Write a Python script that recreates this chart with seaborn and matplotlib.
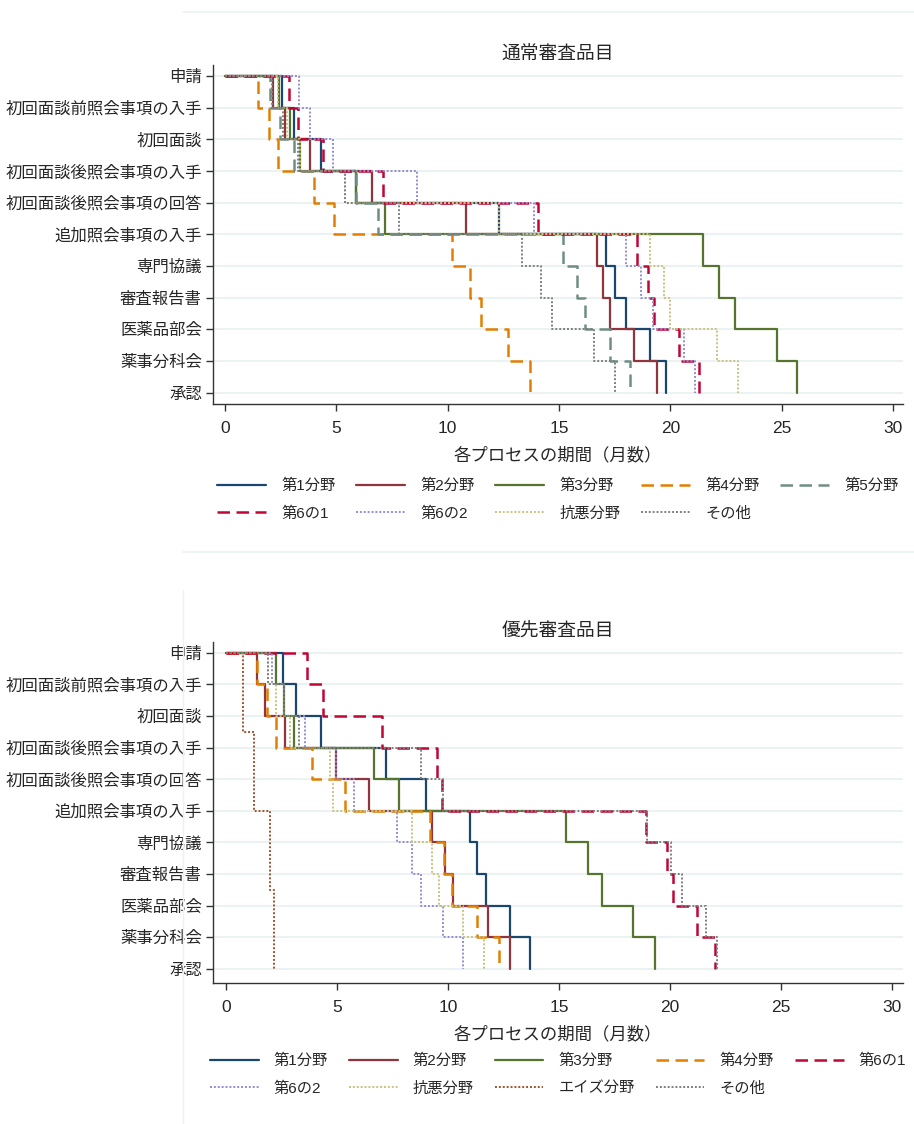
import matplotlib
matplotlib.use('Agg')
import matplotlib.pyplot as plt
from matplotlib.lines import Line2D
import seaborn as sns
import pandas as pd

sns.set_theme(style='white')
plt.rcParams['font.family'] = ['Liberation Sans', 'Noto Sans CJK JP', 'DejaVu Sans']
plt.rcParams['axes.unicode_minus'] = False

# 審査プロセスの各段階
stages = ['申請', '初回面談前照会事項の入手', '初回面談', '初回面談後照会事項の入手',
          '初回面談後照会事項の回答', '追加照会事項の入手', '専門協議', '審査報告書',
          '医薬品部会', '薬事分科会', '承認']
stage_pos = list(range(len(stages)))

# 通常審査品目（各段階までの累積月数）
normal_1 = [0, 2.57, 3.10, 4.30, 5.90, 12.29, 17.09, 17.51, 18.01, 19.08, 19.79]
normal_2 = [0, 2.17, 2.69, 3.82, 6.59, 10.82, 16.69, 16.99, 17.29, 18.38, 19.38]
normal_3 = [0, 2.44, 2.92, 3.37, 5.90, 7.18, 21.48, 22.18, 22.90, 24.77, 25.67]
normal_4 = [0, 1.50, 1.98, 2.39, 4.00, 4.89, 10.18, 11.00, 11.50, 12.69, 13.70]
normal_5 = [0, 2.02, 2.47, 3.10, 5.90, 6.89, 15.19, 15.82, 16.18, 17.29, 18.20]
normal_61 = [0, 2.89, 3.29, 4.39, 7.08, 14.07, 18.49, 18.98, 19.28, 20.40, 21.28]
normal_62 = [0, 3.31, 3.82, 4.86, 8.61, 13.87, 17.99, 18.68, 19.20, 20.61, 21.10]
normal_koaku = [0, 2.36, 2.80, 3.37, 5.39, 12.29, 19.10, 19.70, 20.00, 22.09, 23.02]
normal_other = [0, 2.10, 2.59, 3.30, 5.39, 7.80, 13.32, 14.19, 14.67, 16.58, 17.51]

# 優先審査品目
prio_1 = [0, 2.55, 3.16, 4.26, 7.19, 8.99, 10.99, 11.32, 11.71, 12.79, 13.69]
prio_2 = [0, 1.38, 1.76, 2.67, 4.95, 6.46, 9.29, 9.86, 10.21, 11.82, 12.79]
prio_3 = [0, 2.26, 2.60, 3.07, 6.68, 7.78, 15.30, 16.32, 16.92, 18.32, 19.32]
prio_4 = [0, 1.38, 1.83, 2.25, 3.86, 5.36, 9.19, 9.82, 10.16, 11.29, 12.30]
prio_61 = [0, 3.66, 4.38, 7.01, 9.52, 9.72, 18.92, 19.85, 20.12, 21.23, 22.03]
prio_62 = [0, 2.06, 2.60, 3.56, 4.95, 5.78, 7.69, 8.39, 8.78, 9.79, 10.69]
prio_koaku = [0, 1.90, 2.27, 2.87, 4.68, 4.84, 8.39, 9.29, 9.59, 10.69, 11.62]
prio_other = [0, 1.90, 2.60, 3.30, 8.78, 9.79, 18.95, 20.03, 20.53, 21.62, 22.13]
# エイズ分野は一部の段階のみ
prio_aids = [0, 0.75, 1.28, 1.98, 2.18]
prio_aids_pos = [0, 2.5, 5, 7.5, 10]

# 系列のスタイル
DASH = (0, (5, 2.6))
DOT = (0, (1, 1))
styles = {
    '第1分野': ('#1a476f', '-'),
    '第2分野': ('#90353b', '-'),
    '第3分野': ('#55752f', '-'),
    '第4分野': ('#e37e00', DASH),
    '第5分野': ('#6e8e84', DASH),
    '第6の1': ('#c10534', DASH),
    '第6の2': ('#938dd2', DOT),
    '抗悪分野': ('#cac27e', DOT),
    'エイズ分野': ('#a0522d', DOT),
    'その他': ('#7f7f7f', DOT),
}

normal = [('第1分野', normal_1, stage_pos), ('第2分野', normal_2, stage_pos),
          ('第3分野', normal_3, stage_pos), ('第4分野', normal_4, stage_pos),
          ('第5分野', normal_5, stage_pos), ('第6の1', normal_61, stage_pos),
          ('第6の2', normal_62, stage_pos), ('抗悪分野', normal_koaku, stage_pos),
          ('その他', normal_other, stage_pos)]
prio = [('第1分野', prio_1, stage_pos), ('第2分野', prio_2, stage_pos),
        ('第3分野', prio_3, stage_pos), ('第4分野', prio_4, stage_pos),
        ('第6の1', prio_61, stage_pos), ('第6の2', prio_62, stage_pos),
        ('抗悪分野', prio_koaku, stage_pos), ('エイズ分野', prio_aids, prio_aids_pos),
        ('その他', prio_other, stage_pos)]

fig = plt.figure(figsize=(9.14, 11.24), dpi=100)
ax1 = fig.add_axes([0.233, 0.6406, 0.755, 0.3016])
ax2 = fig.add_axes([0.233, 0.1254, 0.755, 0.3034])

# 背景の薄い枠線
grid_col = '#eaf2f3'
fig.add_artist(Line2D([183 / 914, 1], [1 - 12 / 1124] * 2, color=grid_col, lw=1.2))
fig.add_artist(Line2D([183 / 914, 1], [1 - 552 / 1124] * 2, color=grid_col, lw=1.2))
fig.add_artist(Line2D([183 / 914] * 2, [0, 1 - 590 / 1124], color=grid_col, lw=1.0))


def draw_panel(ax, series, title, ylim, xlim, leg_y):
    for p in stage_pos:
        ax.axhline(p, color=grid_col, lw=1.4, zorder=0)
    for name, times, pos in series:
        col, ls = styles[name]
        if ls == '-':
            lw = 1.6
        elif ls == DASH:
            lw = 1.8
        else:
            lw = 1.4
        df = pd.DataFrame({'t': times, 'pos': pos})
        sns.lineplot(data=df, x='t', y='pos', ax=ax, color=col, linestyle=ls,
                     lw=lw, drawstyle='steps-post', sort=False, estimator=None,
                     label=name)
    ax.set_ylim(*ylim)
    ax.set_xlim(*xlim)
    ax.set_yticks(stage_pos)
    ax.set_yticklabels(stages, fontsize=11.8)
    ax.set_xticks(range(0, 31, 5))
    ax.tick_params(axis='x', labelsize=12.5, length=5, width=1, color='#333333',
                   bottom=True, pad=7)
    ax.tick_params(axis='y', length=5, width=1, color='#333333', left=True, pad=3)
    for s in ['top', 'right']:
        ax.spines[s].set_visible(False)
    for s in ['left', 'bottom']:
        ax.spines[s].set_color('#333333')
        ax.spines[s].set_linewidth(1.0)
    ax.set_xlabel('各プロセスの期間（月数）', fontsize=12.5, labelpad=8)
    ax.set_ylabel('')
    ax.set_title(title, fontsize=13.5, pad=4)
    # 凡例は行優先で並べる（matplotlib は列優先で詰めるので並べ替える）
    h, l = ax.get_legend_handles_labels()
    order = [0, 5, 1, 6, 2, 7, 3, 8, 4]
    ax.legend([h[i] for i in order], [l[i] for i in order],
              loc='upper center', bbox_to_anchor=(0.5, leg_y), ncol=5, frameon=False,
              fontsize=11, handlelength=3.2, handletextpad=1.0, columnspacing=1.35,
              labelspacing=0.85)


draw_panel(ax1, normal, '通常審査品目', (10.36, -0.35), (-0.54, 30.45), -0.18)
draw_panel(ax2, prio, '優先審査品目', (10.45, -0.34), (-0.59, 30.5), -0.167)

fig.savefig('out.png', dpi=100)
